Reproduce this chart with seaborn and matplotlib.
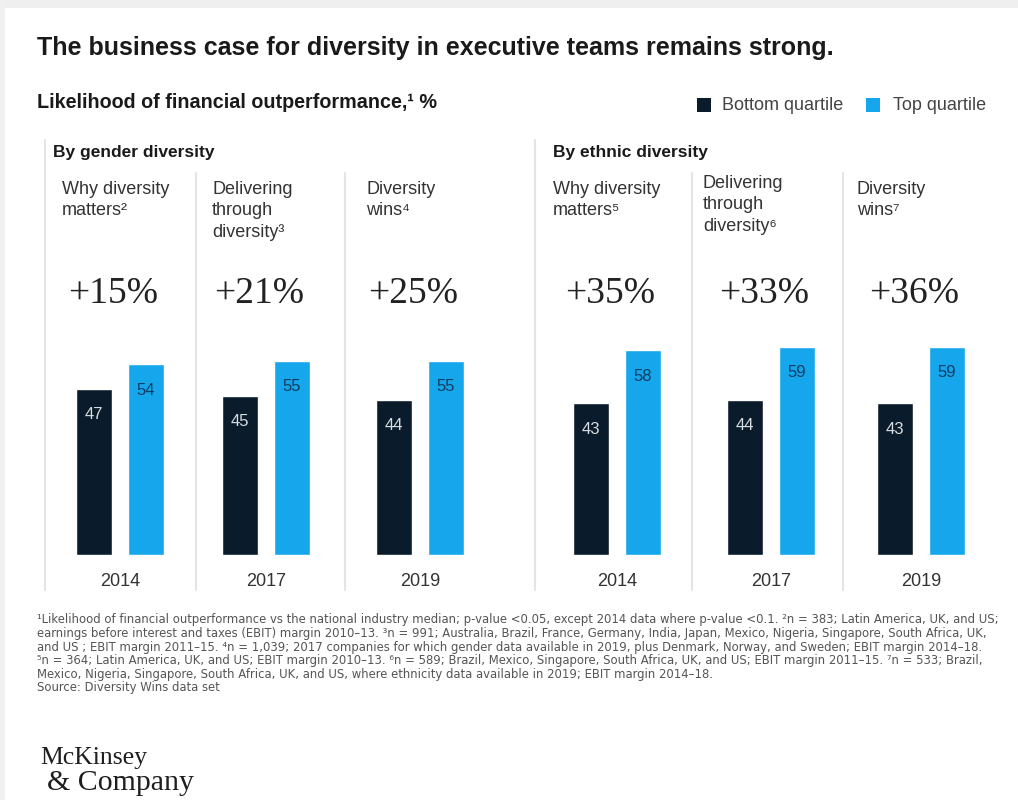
import matplotlib
matplotlib.use("Agg")
import matplotlib.pyplot as plt
from matplotlib.lines import Line2D
from matplotlib.patches import Rectangle
import seaborn as sns
import pandas as pd

# ---------------- data ----------------
quartiles = ["Bottom quartile", "Top quartile"]
studies = ["Why diversity\nmatters²", "Delivering\nthrough\ndiversity³", "Diversity\nwins⁴",
           "Why diversity\nmatters⁵", "Delivering\nthrough\ndiversity⁶", "Diversity\nwins⁷"]
years = ["2014", "2017", "2019", "2014", "2017", "2019"]
bottom_vals = [47, 45, 44, 43, 44, 43]
top_vals = [54, 55, 55, 58, 59, 59]
uplift = ["+15%", "+21%", "+25%", "+35%", "+33%", "+36%"]
group_labels = ["By gender diversity", "By ethnic diversity"]

title = "The business case for diversity in executive teams remains strong."
subtitle = "Likelihood of financial outperformance,¹ %"
footnotes = [
    "¹Likelihood of financial outperformance vs the national industry median; p-value <0.05, except 2014 data where p-value <0.1. ²n = 383; Latin America, UK, and US;",
    "earnings before interest and taxes (EBIT) margin 2010–13. ³n = 991; Australia, Brazil, France, Germany, India, Japan, Mexico, Nigeria, Singapore, South Africa, UK,",
    "and US ; EBIT margin 2011–15. ⁴n = 1,039; 2017 companies for which gender data available in 2019, plus Denmark, Norway, and Sweden; EBIT margin 2014–18.",
    "⁵n = 364; Latin America, UK, and US; EBIT margin 2010–13. ⁶n = 589; Brazil, Mexico, Singapore, South Africa, UK, and US; EBIT margin 2011–15. ⁷n = 533; Brazil,",
    "Mexico, Nigeria, Singapore, South Africa, UK, and US, where ethnicity data available in 2019; EBIT margin 2014–18.",
    "Source: Diversity Wins data set",
]

# ---------------- style ----------------
DARK = "#0A1C2B"
BLUE = "#16A6EC"
SEP = "#E4E4E4"
palette = {quartiles[0]: DARK, quartiles[1]: BLUE}

sns.set_theme(style="white")
SANS = ["Liberation Sans", "DejaVu Sans"]
SERIF = ["Liberation Serif", "DejaVu Serif"]
plt.rcParams["font.family"] = SANS

W, H = 1018, 800
fig = plt.figure(figsize=(W / 100, H / 100), dpi=100)
fig.patch.set_facecolor("white")

def fx(x):
    return x / W

def fy(y):
    return 1 - y / H

# light gray frame at top/left of the screenshot
fig.add_artist(Rectangle((0, fy(8)), 1, 8 / H, transform=fig.transFigure,
                         facecolor="#EFEFEF", edgecolor="none", zorder=0))
fig.add_artist(Rectangle((0, 0), 5 / W, 1, transform=fig.transFigure,
                         facecolor="#F0F0F0", edgecolor="none", zorder=0))

# titles
fig.text(fx(37), fy(48), title, fontsize=18, fontweight="bold", color="#1A1A1A",
         va="center", ha="left")
fig.text(fx(37), fy(103), subtitle, fontsize=14.2, fontweight="bold", color="#1A1A1A",
         va="center", ha="left")

# legend
for (lx, tx, lab, col) in [(697, 722, quartiles[0], DARK), (866, 893, quartiles[1], BLUE)]:
    fig.add_artist(Rectangle((fx(lx), fy(112)), 14 / W, 14 / H, transform=fig.transFigure,
                             facecolor=col, edgecolor="none"))
    fig.text(fx(tx), fy(105), lab, fontsize=13, color="#444444", va="center", ha="left")

# group labels
fig.text(fx(53), fy(152), group_labels[0], fontsize=12.5, fontweight="bold", color="#1A1A1A",
         va="center", ha="left")
fig.text(fx(553), fy(152), group_labels[1], fontsize=12.5, fontweight="bold", color="#1A1A1A",
         va="center", ha="left")

# separators
for x, y0 in [(45, 140), (196, 173), (345, 173), (535, 140), (692, 173), (843, 173)]:
    fig.add_artist(Line2D([fx(x), fx(x)], [fy(y0), fy(590)], transform=fig.transFigure,
                          color=SEP, lw=1.5))

# panels
centers0 = [94, 240, 394, 591, 745, 895]
unit = 52.0
study_x = [62, 212, 366, 553, 703, 857]
study_y = [181, 181, 181, 181, 175, 181]
ax_bottom, ax_height = 555, 353

for i in range(6):
    left = centers0[i] - 0.5 * unit
    ax = fig.add_axes([fx(left), fy(ax_bottom), 2 * unit / W, ax_height / H])
    df = pd.DataFrame({"quartile": quartiles, "value": [bottom_vals[i], top_vals[i]]})
    sns.barplot(data=df, x="quartile", y="value", hue="quartile", palette=palette,
                order=quartiles, hue_order=quartiles, width=0.7, legend=False, ax=ax,
                saturation=1)
    ax.set_xlim(-0.5, 1.5)
    ax.set_ylim(0, 100)
    for c, col in zip(ax.containers, ["#D8DDE2", "#0E3D63"]):
        ax.bar_label(c, padding=-24, color=col, fontsize=12)
    ax.set_xticks([0.5])
    ax.set_xticklabels([years[i]], fontsize=13, color="#333333")
    ax.tick_params(axis="x", length=0, pad=13)
    ax.set_yticks([])
    ax.set_xlabel("")
    ax.set_ylabel("")
    for s in ax.spines.values():
        s.set_visible(False)
    ax.patch.set_alpha(0)

    fig.text(fx(centers0[i] + 0.5 * unit - 7), fy(294), uplift[i], family=SERIF,
             fontsize=27, color="#222222", ha="center", va="center")
    fig.text(fx(study_x[i]), fy(study_y[i]), studies[i], fontsize=13, color="#333333",
             ha="left", va="top", linespacing=1.33)

# footnotes
for k, line in enumerate(footnotes):
    fig.text(fx(37), fy(620 + 13.6 * k), line, family=["DejaVu Sans"], fontsize=8.35,
             color="#555555", ha="left", va="center")

# logo
fig.text(fx(40), fy(758), "McKinsey", family=SERIF, fontsize=18.5,
         color="#1E1E1E", ha="left", va="center")
fig.text(fx(47), fy(783), "& Company", family=SERIF, fontsize=21.5,
         color="#1E1E1E", ha="left", va="center")

fig.savefig("out.png", dpi=100, facecolor="white")
